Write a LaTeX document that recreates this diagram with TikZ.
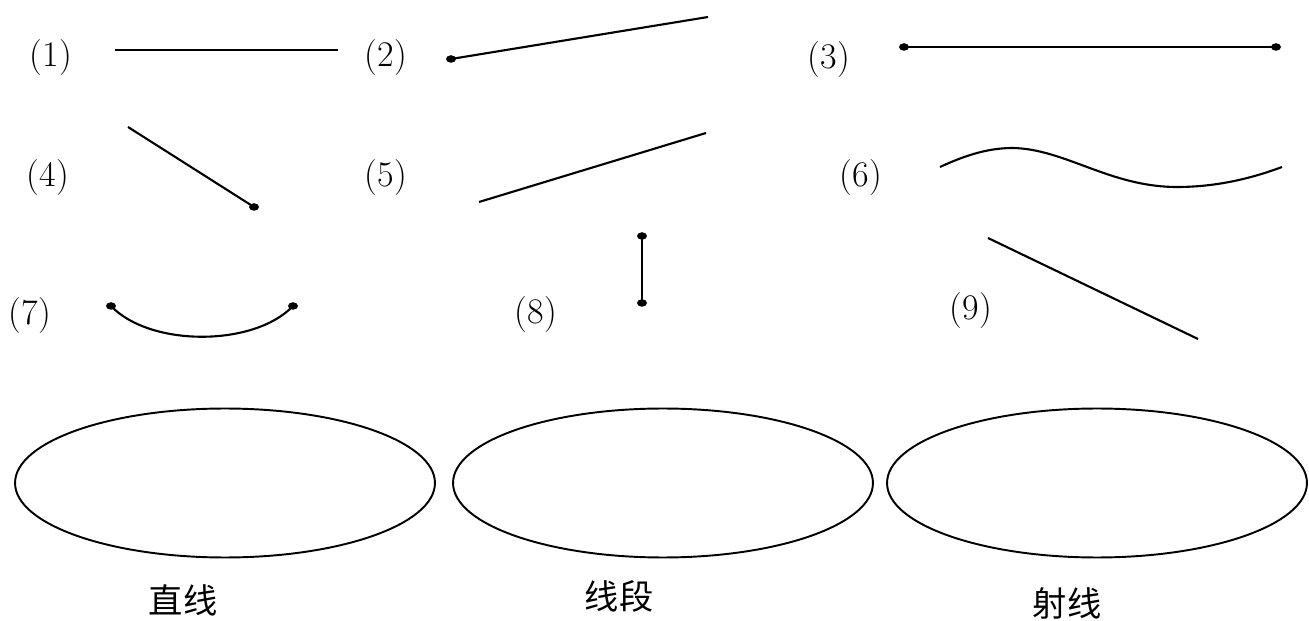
\documentclass[tikz,border=0pt]{standalone}
\usepackage{fontspec}
\newfontfamily\cjk{Noto Sans CJK SC}
\usetikzlibrary{shapes.geometric}
\tikzset{
  lbl/.style={inner sep=0pt, font=\fontsize{20.5}{22}\selectfont},
  cnlbl/.style={inner sep=0pt, font=\cjk\fontsize{19.5}{22}\selectfont},
  dotnode/.style={ellipse, fill=black, inner sep=0pt, minimum width=0.2cm, minimum height=0.15cm},
  seg/.style={line width=1.2pt},
  bound/.style={ellipse, draw, line width=1.1pt, minimum width=8.4cm, minimum height=2.98cm, inner sep=0pt}
}
\begin{document}
\begin{tikzpicture}[x=0.02cm, y=-0.02cm]
\useasboundingbox (0,0) rectangle (1309,621);
% labels
\node[lbl] (l1) at (51,58) {(1)};
\node[lbl] (l2) at (386,58) {(2)};
\node[lbl] (l3) at (829,60) {(3)};
\node[lbl] (l4) at (48,178) {(4)};
\node[lbl] (l5) at (386,178) {(5)};
\node[lbl] (l6) at (861,178) {(6)};
\node[lbl] (l7) at (30,316) {(7)};
\node[lbl] (l8) at (536,315) {(8)};
\node[lbl] (l9) at (971,311) {(9)};
% (1) line
\coordinate (a1) at (115,50);
\coordinate (b1) at (338,50);
\draw[line width=1.7pt] (a1) -- (b1);
% (2) ray
\node[dotnode] (a2) at (451,59) {};
\coordinate (b2) at (708,17);
\draw[seg] (a2.center) -- (b2);
% (3) segment
\node[dotnode] (a3) at (904,47) {};
\node[dotnode] (b3) at (1276,47) {};
\draw[seg] (a3.center) -- (b3.center);
% (4) ray
\coordinate (a4) at (128,127);
\node[dotnode] (b4) at (254,207) {};
\draw[seg] (a4) -- (b4.center);
% (5) line
\coordinate (a5) at (479,202);
\coordinate (b5) at (706,133);
\draw[seg] (a5) -- (b5);
% (6) curve
\coordinate (a6) at (940,167);
\coordinate (p6) at (1013,148);
\coordinate (q6) at (1177,187);
\coordinate (b6) at (1282,167);
\draw[seg] (a6) .. controls (968,154) and (990,148) .. (p6)
  .. controls (1065,149) and (1110,187) .. (q6)
  .. controls (1215,187) and (1250,179) .. (b6);
% (7) arc
\node[dotnode] (a7) at (111,306) {};
\node[dotnode] (b7) at (293,306) {};
\draw[seg] (a7.center) .. controls (150,347) and (254,347) .. (b7.center);
% (8) segment
\node[dotnode] (a8) at (642,236) {};
\node[dotnode] (b8) at (642,303) {};
\draw[seg] (a8.center) -- (b8.center);
% (9) line
\coordinate (a9) at (988,238);
\coordinate (b9) at (1198,339);
\draw[seg] (a9) -- (b9);
% ellipses
\node[bound] (e1) at (225,483) {};
\node[bound] (e2) at (663,483) {};
\node[bound] (e3) at (1097,483) {};
% captions
\node[cnlbl] (c1) at (183,600) {直线};
\node[cnlbl] (c2) at (619,596) {线段};
\node[cnlbl] (c3) at (1067,603) {射线};
\end{tikzpicture}
\end{document}
